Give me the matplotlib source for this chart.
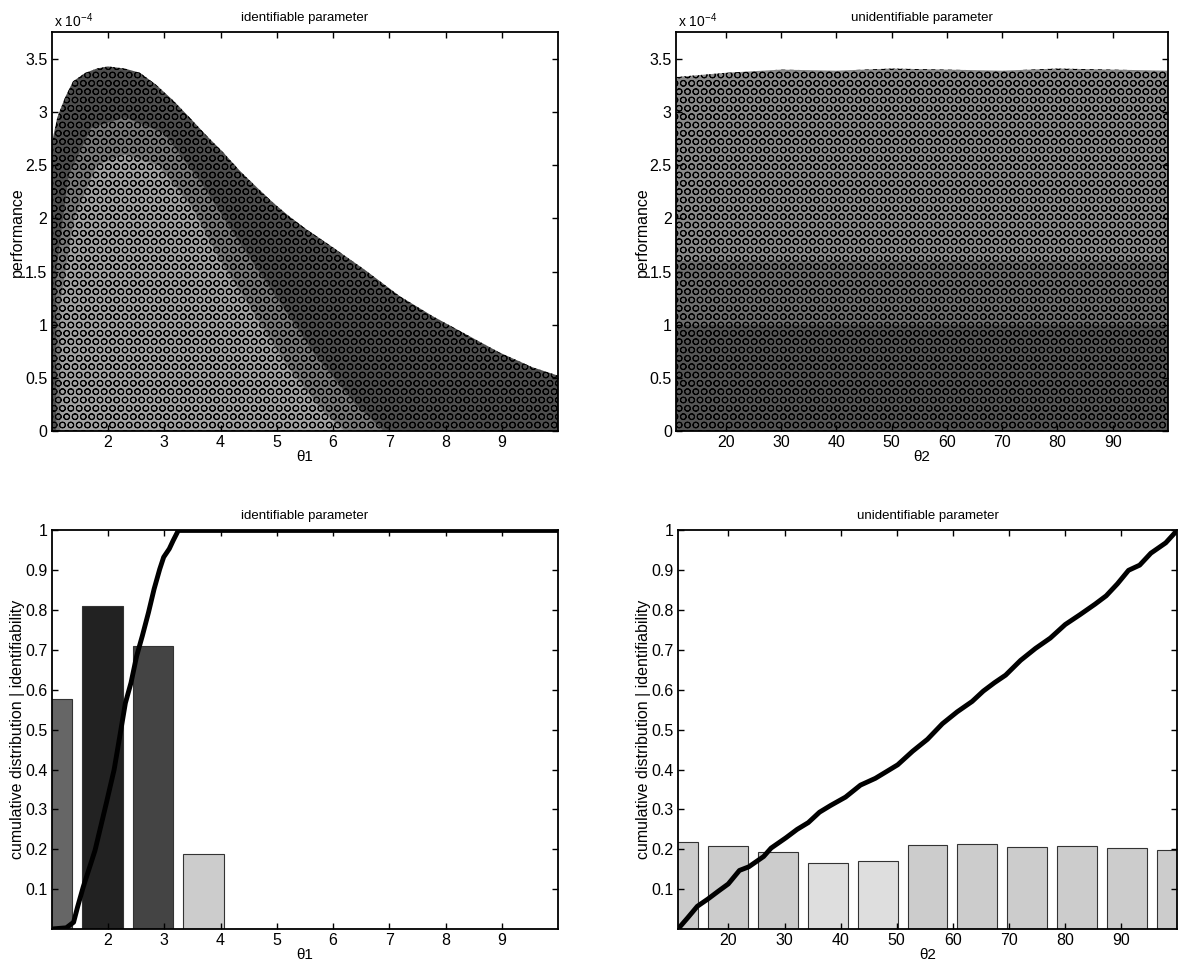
import numpy as np;
import matplotlib;
matplotlib.use('Agg');
import matplotlib.pyplot as plt;
from matplotlib.ticker import FuncFormatter;

plt.rcParams['font.family']=['Liberation Sans','DejaVu Sans'];
plt.rcParams['mathtext.fontset']='custom';
plt.rcParams['mathtext.rm']='Liberation Sans';
plt.rcParams['hatch.linewidth']=0.7;

#top left: outline of the theta1 sample cloud (performance in units of 1e-4)
theta1Edge=[1.0,1.1,1.24,1.38,1.6,1.8,2.0,2.3,2.57,2.85,3.16,3.45,3.75,4.05,4.34,4.63,4.93,5.22,5.52,5.99,6.58,7.18,7.77,8.36,8.95,9.54,10.0];
perf1Edge=[2.70,2.95,3.14,3.29,3.37,3.41,3.43,3.41,3.37,3.26,3.11,2.95,2.78,2.62,2.45,2.30,2.15,2.02,1.90,1.73,1.51,1.27,1.08,0.91,0.74,0.60,0.52];
#less crowded zone inside that cloud, and its thinnest core
theta1Mid=[1.08,1.08,1.3,1.7,2.3,3.0,3.7,4.3,5.0,5.7,6.4,6.9];
perf1Mid=[0.0,1.5,2.4,2.85,2.95,2.8,2.3,1.8,1.25,0.7,0.25,0.0];
theta1Sparse=[1.15,1.15,1.4,1.8,2.3,2.9,3.5,4.0,4.6,5.2,5.8,6.2];
perf1Sparse=[0.0,1.2,2.0,2.5,2.6,2.5,2.1,1.6,1.1,0.6,0.2,0.0];

#top right: theta2 cloud, crowded at the bottom and thinner upward
theta2Edge=[11,20,30,40,50,60,70,80,90,100];
perf2Top=[3.33,3.37,3.40,3.39,3.41,3.40,3.39,3.41,3.40,3.39];
perf2Bands=[0.0,1.0,1.6];

#bottom left: identifiability bars and cumulative distribution of theta1
binCenters1=[1.0,1.9,2.8,3.7,4.6,5.5,6.4,7.3,8.2,9.1,10.0];
ident1=[0.577,0.81,0.709,0.187,0,0,0,0,0,0,0];
barColors1=['#666666','#222222','#444444','#cccccc']+['#cccccc']*7;
cdfX1=[1.0,1.26,1.39,1.46,1.56,1.77,1.97,2.11,2.21,2.31,2.41,2.51,2.61,2.72,2.82,2.92,2.99,3.09,3.16,3.25,10.0];
cdfY1=[0,0.003,0.017,0.055,0.105,0.197,0.315,0.40,0.483,0.567,0.618,0.685,0.735,0.794,0.853,0.903,0.933,0.954,0.975,1.0,1.0];

#bottom right: same for theta2
binCenters2=[11.0,19.9,28.8,37.7,46.6,55.5,64.4,73.3,82.2,91.1,100.0];
ident2=[0.219,0.209,0.192,0.165,0.171,0.212,0.213,0.206,0.208,0.202,0.198];
barColors2=['#cccccc','#cccccc','#cccccc','#dedede','#dedede','#cccccc','#cccccc','#cccccc','#cccccc','#cccccc','#cccccc'];
cdfX2=[11.0,12.66,14.45,16.31,18.30,19.96,21.96,23.62,26.28,27.60,30.26,32.25,34.24,36.23,38.22,40.88,43.54,46.19,48.19,50.18,52.84,55.49,58.15,60.80,63.46,65.45,67.44,69.43,72.09,74.75,77.40,80.06,82.72,85.37,87.36,89.36,91.35,93.34,95.33,97.99,100.0];
cdfY2=[0,0.027,0.057,0.075,0.096,0.113,0.147,0.156,0.182,0.203,0.229,0.250,0.267,0.293,0.310,0.331,0.361,0.378,0.395,0.412,0.446,0.476,0.515,0.545,0.571,0.597,0.618,0.637,0.674,0.704,0.730,0.764,0.789,0.815,0.836,0.866,0.900,0.913,0.943,0.969,1.0];

fig=plt.figure(figsize=(11.82,9.65),dpi=100);
axTL=fig.add_axes([0.0437,0.5534,0.4286,0.4130]);
axTR=fig.add_axes([0.5719,0.5534,0.4162,0.4130]);
axBL=fig.add_axes([0.0437,0.0373,0.4286,0.4130]);
axBR=fig.add_axes([0.5736,0.0373,0.4222,0.4130]);

gfmt=FuncFormatter(lambda v,p: '%g'%round(v,4));

def matlabStyle(ax):
  ax.tick_params(direction='in',top=True,right=True,length=4,width=1,labelsize=11.5,pad=3);
  for s in ax.spines.values():
    s.set_linewidth(1.3);
  ax.yaxis.set_major_formatter(gfmt);

def labels(ax,title,xlab,ylab):
  ax.set_title(title,fontsize=9.5,pad=8);
  ax.set_xlabel(xlab,fontsize=11,labelpad=0);
  ax.set_ylabel(ylab,fontsize=11.5,labelpad=0);

#scatter clouds, drawn as circle textured regions
axTL.fill_between(theta1Edge,0,perf1Edge,facecolor='#4e4e4e',edgecolor='k',hatch='OO',linewidth=0);
axTL.fill(theta1Mid,perf1Mid,facecolor='#7a7a7a',edgecolor='k',hatch='OO',linewidth=0);
axTL.fill(theta1Sparse,perf1Sparse,facecolor='#a2a2a2',edgecolor='k',hatch='OO',linewidth=0);
axTL.set_xlim(1,10);
axTL.set_ylim(0,3.75);
axTL.set_xticks(range(2,10));
axTL.set_yticks(np.arange(0,3.6,0.5));
labels(axTL,'identifiable parameter','θ1','performance');
axTL.text(0.005,1.005,r'x 10$^{\mathregular{-4}}$',transform=axTL.transAxes,fontsize=10,va='bottom');
matlabStyle(axTL);

bandColors=['#555555','#6e6e6e','#8a8a8a'];
bandTops=[[perf2Bands[1]]*len(theta2Edge),[perf2Bands[2]]*len(theta2Edge),perf2Top];
for k in range(3):
  axTR.fill_between(theta2Edge,perf2Bands[k],bandTops[k],facecolor=bandColors[k],edgecolor='k',hatch='OO',linewidth=0);
axTR.set_xlim(11,100);
axTR.set_ylim(0,3.75);
axTR.set_xticks(range(20,100,10));
axTR.set_yticks(np.arange(0,3.6,0.5));
labels(axTR,'unidentifiable parameter','θ2','performance');
axTR.text(0.005,1.005,r'x 10$^{\mathregular{-4}}$',transform=axTR.transAxes,fontsize=10,va='bottom');
matlabStyle(axTR);

#identifiability bars plus cdf line
axBL.bar(binCenters1,ident1,width=0.72,color=barColors1,edgecolor='#333333',linewidth=0.8);
axBL.plot(cdfX1,cdfY1,color='k',linewidth=3.5);
axBL.set_xlim(1,10);
axBL.set_ylim(0,1);
axBL.set_xticks(range(2,10));
axBL.set_yticks(np.arange(0.1,1.01,0.1));
labels(axBL,'identifiable parameter','θ1','cumulative distribution | identifiability');
matlabStyle(axBL);

axBR.bar(binCenters2,ident2,width=7.12,color=barColors2,edgecolor='#333333',linewidth=0.8);
axBR.plot(cdfX2,cdfY2,color='k',linewidth=3.5);
axBR.set_xlim(11,100);
axBR.set_ylim(0,1);
axBR.set_xticks(range(20,100,10));
axBR.set_yticks(np.arange(0.1,1.01,0.1));
labels(axBR,'unidentifiable parameter','θ2','cumulative distribution | identifiability');
matlabStyle(axBR);

plt.savefig('out.png',dpi=100);
